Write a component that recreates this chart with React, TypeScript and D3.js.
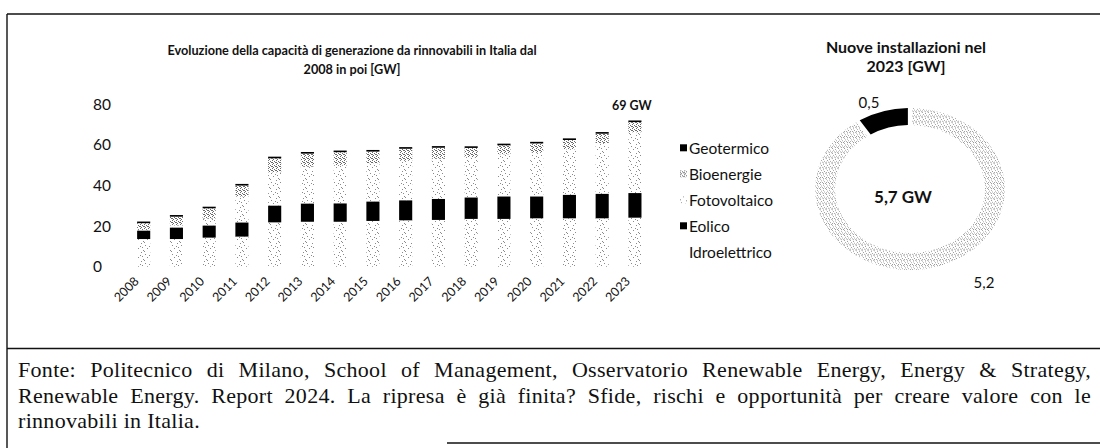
import { useLayoutEffect, useRef, useState } from "react";
import { scaleBand, scaleLinear, stack, pie, arc } from "d3";

const years = ["2008", "2009", "2010", "2011", "2012", "2013", "2014", "2015", "2016", "2017", "2018", "2019", "2020", "2021", "2022", "2023"];
const idroelettrico = [13.6, 13.6, 14.3, 14.8, 21.8, 22.1, 22.1, 22.5, 22.8, 23.0, 23.5, 23.5, 23.8, 23.8, 23.8, 24.1];
const eolico = [4.1, 5.6, 5.9, 6.9, 8.2, 8.9, 9.0, 9.5, 9.8, 10.3, 10.5, 11.0, 10.7, 11.5, 12.0, 12.1];
const fotovoltaico = [0.4, 1.1, 3.5, 12.8, 16.4, 18.2, 18.6, 18.9, 19.5, 19.8, 19.9, 20.8, 21.5, 22.4, 25.0, 29.9];
const bioenergie = [3.3, 4.3, 5.0, 5.4, 6.9, 6.4, 6.6, 5.7, 5.9, 5.4, 4.5, 4.4, 4.6, 4.6, 4.6, 5.0];
const geotermico = [0.8, 0.8, 0.8, 0.8, 0.8, 0.8, 0.8, 0.8, 0.8, 0.8, 0.8, 0.8, 0.8, 0.8, 0.8, 0.8];
const yTicks = [0, 20, 40, 60, 80];

const seriesKeys = ["Idroelettrico", "Eolico", "Fotovoltaico", "Bioenergie", "Geotermico"];
const legendOrder = ["Geotermico", "Bioenergie", "Fotovoltaico", "Eolico", "Idroelettrico"];

const donutLabels = ["5,2", "0,5"];
const donutValues = [5.2, 0.5];

const noteLines = [
  "Fonte: Politecnico di Milano, School of Management, Osservatorio Renewable Energy, Energy & Strategy,",
  "Renewable Energy. Report 2024. La ripresa è già finita? Sfide, rischi e opportunità per creare valore con le",
  "rinnovabili in Italia.",
];

const fills: Record<string, string> = {
  Idroelettrico: "url(#speckLight)",
  Eolico: "#000",
  Fotovoltaico: "url(#speckLight)",
  Bioenergie: "url(#speckDense)",
  Geotermico: "#000",
};

// fixed dot layouts for the scanned-looking textures
const lightDots = [[1, 2], [6, 0], [3, 5], [8, 7], [0, 8], [5, 3], [7, 4]];
const denseDots = [[0, 0], [2, 1], [1, 3], [3, 2], [0, 2]];
const ringDots = [[0, 0], [3, 1], [1, 2], [4, 3], [2, 4], [0, 4], [5, 5], [3, 5]];

const font = "Lato, 'Open Sans', sans-serif";
const noteX = 18;
const noteWidth = 1073;

export default function App() {
  const noteRefs = useRef<(SVGTextElement | null)[]>([]);
  const [wordGap, setWordGap] = useState<number[]>([0, 0, 0]);

  // justify the first two lines of the note by widening word gaps
  useLayoutEffect(() => {
    setWordGap(
      noteLines.map((line, i) => {
        const el = noteRefs.current[i];
        if (!el || i === noteLines.length - 1) return 0;
        const gaps = line.split(" ").length - 1;
        return Math.max(0, (noteWidth - el.getComputedTextLength()) / gaps);
      })
    );
  }, []);

  const table = years.map((y, i) => ({
    year: y,
    Idroelettrico: idroelettrico[i],
    Eolico: eolico[i],
    Fotovoltaico: fotovoltaico[i],
    Bioenergie: bioenergie[i],
    Geotermico: geotermico[i],
  }));
  const series = stack<any>().keys(seriesKeys)(table);

  const x = scaleBand<string>().domain(years).range([127.3, 651.3]).paddingInner(0.6).paddingOuter(0.3);
  const y = scaleLinear().domain([0, 80]).range([266.7, 104]);

  const last = series[series.length - 1][years.length - 1][1];

  const pieData = pie<number>().sort(null).padAngle(0.035)(donutValues);
  const ring = arc<any>().innerRadius(75).outerRadius(95);
  const cx = 910;
  const cy = 189;
  const labelOffsets = [
    [74, 94],
    [-41, -86],
  ];

  return (
    <svg width={1100} height={448} style={{ position: "absolute", left: 0, top: 0, background: "#fff" }}>
      <defs>
        <pattern id="speckLight" width={9} height={9} patternUnits="userSpaceOnUse">
          {lightDots.map(([a, b], i) => (
            <rect key={i} x={a} y={b} width={1} height={1} fill="#8a8a8a" />
          ))}
        </pattern>
        <pattern id="speckDense" width={4} height={4} patternUnits="userSpaceOnUse">
          {denseDots.map(([a, b], i) => (
            <rect key={i} x={a} y={b} width={1} height={1} fill="#6a6a6a" />
          ))}
        </pattern>
        <pattern id="speckRing" width={6} height={6} patternUnits="userSpaceOnUse">
          {ringDots.map(([a, b], i) => (
            <rect key={i} x={a} y={b} width={1} height={1} fill="#9a9a9a" />
          ))}
        </pattern>
      </defs>

      {/* frame */}
      <g stroke="#111" strokeWidth={1.4}>
        <line x1={7} y1={14} x2={1100} y2={14} />
        <line x1={7} y1={14} x2={7} y2={448} />
        <line x1={7} y1={348.5} x2={1100} y2={348.5} />
        <line x1={447} y1={443} x2={1100} y2={443} />
      </g>

      {/* bar chart title */}
      <g fontFamily={font} fontWeight={700} fontSize={12.7} textAnchor="middle" fill="#111">
        <text x={352} y={54.5}>Evoluzione della capacità di generazione da rinnovabili in Italia dal</text>
        <text x={352} y={73.5}>2008 in poi [GW]</text>
      </g>

      {/* y tick labels */}
      {yTicks.map((t) => (
        <text key={t} x={93} y={y(t)} dy="0.36em" fontFamily={font} fontSize={15.5} fill="#111">
          {t}
        </text>
      ))}

      {/* stacked bars */}
      {series.map((s) => (
        <g key={s.key} fill={fills[s.key]}>
          {s.map((d, i) => (
            <rect
              key={i}
              x={x(years[i])!}
              y={y(d[1])}
              width={x.bandwidth()}
              height={Math.max(0, y(d[0]) - y(d[1]))}
            />
          ))}
        </g>
      ))}

      <text
        x={x("2023")! + x.bandwidth() / 2 - 3}
        y={y(last) - 10}
        textAnchor="middle"
        fontFamily={font}
        fontWeight={700}
        fontSize={12.5}
        fill="#111"
      >
        69 GW
      </text>

      {/* x labels */}
      {years.map((yr) => (
        <text
          key={yr}
          transform={`translate(${x(yr)! + x.bandwidth() / 2 - 4},${282}) rotate(-45)`}
          textAnchor="end"
          fontFamily={font}
          fontSize={12.5}
          fill="#111"
        >
          {yr}
        </text>
      ))}

      {/* legend */}
      {legendOrder.map((k, i) => (
        <g key={k} transform={`translate(680,${148.3 + i * 26})`}>
          {k !== "Idroelettrico" && <rect x={0} y={-4} width={7} height={7} fill={fills[k]} />}
          <text x={9} dy="0.35em" fontFamily={font} fontSize={15.5} fill="#111">
            {k}
          </text>
        </g>
      ))}

      {/* donut */}
      <g fontFamily={font} fontWeight={700} fontSize={16} textAnchor="middle" fill="#111">
        <text x={906} y={53}>Nuove installazioni nel</text>
        <text x={906} y={72}>2023 [GW]</text>
      </g>
      <g transform={`translate(${cx},${cy}) scale(1,0.853)`}>
        {pieData.map((d, i) => (
          <path key={i} d={ring(d) ?? ""} fill={i === 0 ? "url(#speckRing)" : "#000"} />
        ))}
      </g>
      {pieData.map((d, i) => (
        <text
          key={i}
          x={cx + labelOffsets[i][0]}
          y={cy + labelOffsets[i][1]}
          dy="0.35em"
          textAnchor="middle"
          fontFamily={font}
          fontSize={15}
          fill="#111"
        >
          {donutLabels[i]}
        </text>
      ))}
      <text x={903} y={197.5} dy="0.35em" textAnchor="middle" fontFamily={font} fontWeight={700} fontSize={17} fill="#111">
        5,7 GW
      </text>

      {/* source note */}
      <g fontFamily="'Liberation Serif', 'Times New Roman', serif" fontSize={22} fill="#111">
        {noteLines.map((line, i) => (
          <text
            key={i}
            ref={(el) => {
              noteRefs.current[i] = el;
            }}
            x={noteX}
            y={377 + i * 25.5}
            style={{ wordSpacing: `${wordGap[i]}px`, letterSpacing: "0.3px" }}
          >
            {line}
          </text>
        ))}
      </g>
    </svg>
  );
}
